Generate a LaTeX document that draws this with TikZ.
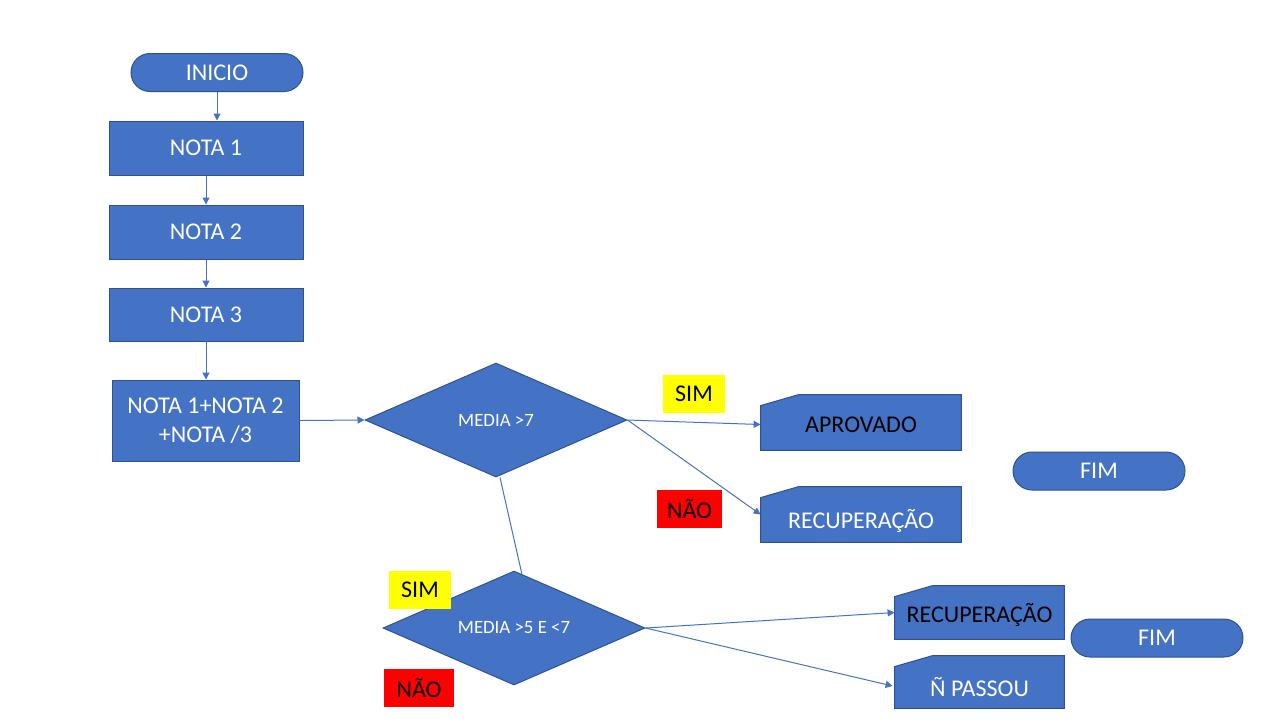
\documentclass[tikz,border=0pt]{standalone}
\usepackage{fontspec}
\setmainfont{Carlito}
\usetikzlibrary{shapes.geometric,arrows.meta,calc,backgrounds}
\definecolor{boxblue}{HTML}{4472C4}
\definecolor{boxedge}{HTML}{2F528F}
\definecolor{yes}{HTML}{FFFF00}
\definecolor{no}{HTML}{FF0000}
\tikzset{
  base/.style={draw=boxedge, line width=0.5pt, fill=boxblue, text=white, inner sep=0pt,
    font=\fontsize{12}{14.5}\selectfont},
  process/.style={base, rectangle},
  terminal/.style={base, rectangle, rounded corners=9.5pt, minimum width=86pt, minimum height=19pt},
  decision/.style={base, diamond, aspect=2.3, font=\fontsize{9.4}{11}\selectfont},
  manual/.style={rectangle, inner sep=0pt, font=\fontsize{12}{14.5}\selectfont},
  tag/.style={rectangle, inner sep=0pt, minimum height=19pt, text=black,
    font=\fontsize{12}{14.5}\selectfont},
  flow/.style={draw=boxblue, line width=0.5pt, -{Triangle[length=3.5pt,width=3.5pt]}},
  link/.style={draw=boxblue, line width=0.5pt},
  manualshape/.style={fill=boxblue, draw=boxedge, line width=0.5pt}
}
% manual-input outline drawn around a named node
\newcommand{\manualinput}[1]{%
  \path[manualshape] ([yshift=-5.5pt]#1.north west) -- ([xshift=19pt]#1.north west)
    -- (#1.north east) -- (#1.south east) -- (#1.south west) -- cycle;}
% lower a text line without changing its box
\newcommand{\lowertext}[2]{\raisebox{-#1}[\height][\depth]{#2}}
\begin{document}
\begin{tikzpicture}[x=0.5pt,y=-0.5pt]
  \useasboundingbox (0,0) rectangle (1280,720);

  % start and the three grades
  \node[terminal] (inicio) at (217,72.5) {INICIO};
  \node[process, minimum width=97pt, minimum height=27pt] (n1) at (206,148) {NOTA 1};
  \node[process, minimum width=97pt, minimum height=27pt] (n2) at (206,232) {NOTA 2};
  \node[process, minimum width=97pt, minimum height=26.5pt] (n3) at (206,314.5) {NOTA 3};
  \node[process, minimum width=93.5pt, minimum height=40.5pt, align=center] (soma) at (205.5,420.5)
    {NOTA 1+NOTA 2\\+NOTA /3};

  % decisions
  \node[decision, minimum width=131pt, minimum height=57pt] (d1) at (496,420) {MEDIA >7};
  \node[decision, minimum width=131pt, minimum height=57pt] (d2) at (514,628) {MEDIA >5 E <7};

  % branch labels
  \node[tag, fill=yes, minimum width=31pt] (sim1) at (694,394) {SIM};
  \node[tag, fill=no, minimum width=32.5pt] (nao1) at (689.5,509) {NÃO};
  \node[tag, fill=yes, minimum width=31pt] (sim2) at (420,590) {SIM};
  \node[tag, fill=no, minimum width=35pt] (nao2) at (419,688) {NÃO};

  % results (manual input boxes)
  \node[manual, minimum width=100pt, minimum height=27.5pt, text=black] (aprov) at (861,422.5)
    {\lowertext{1pt}{APROVADO}};
  \node[manual, minimum width=100pt, minimum height=27.5pt, text=white] (rec1) at (861,514.5)
    {\lowertext{3pt}{RECUPERAÇÃO}};
  \node[manual, minimum width=84.5pt, minimum height=26.5pt, text=black] (rec2) at (979.5,612.5)
    {\lowertext{1pt}{RECUPERAÇÃO}};
  \node[manual, minimum width=84.5pt, minimum height=26pt, text=white] (npass) at (979.5,682)
    {\lowertext{2.5pt}{Ñ PASSOU}};
  \begin{scope}[on background layer]
    \manualinput{aprov}
    \manualinput{rec1}
    \manualinput{rec2}
    \manualinput{npass}
  \end{scope}

  % end terminals
  \node[terminal] (fim1) at (1099,471) {FIM};
  \node[terminal] (fim2) at (1157,638) {FIM};

  % connectors
  \draw[flow] (inicio.south) -- (inicio.south |- n1.north);
  \draw[flow] (n1.south) -- (n2.north);
  \draw[flow] (n2.south) -- (n3.north);
  \draw[flow] (n3.south) -- (n3.south |- soma.north);
  \draw[flow] (soma.east) -- (d1.west);
  \draw[flow] (d1.east) -- ([yshift=-1pt]aprov.west);
  \draw[flow] (d1.east) -- (rec1.west);
  \draw[link] ([xshift=2pt]d1.south) -- ($(d2.north)!0.06!(d2.east)$);
  \draw[flow] (d2.east) -- (rec2.west);
  \draw[flow] (d2.east) -- ([xshift=-1pt,yshift=-2pt]npass.west);
\end{tikzpicture}
\end{document}
